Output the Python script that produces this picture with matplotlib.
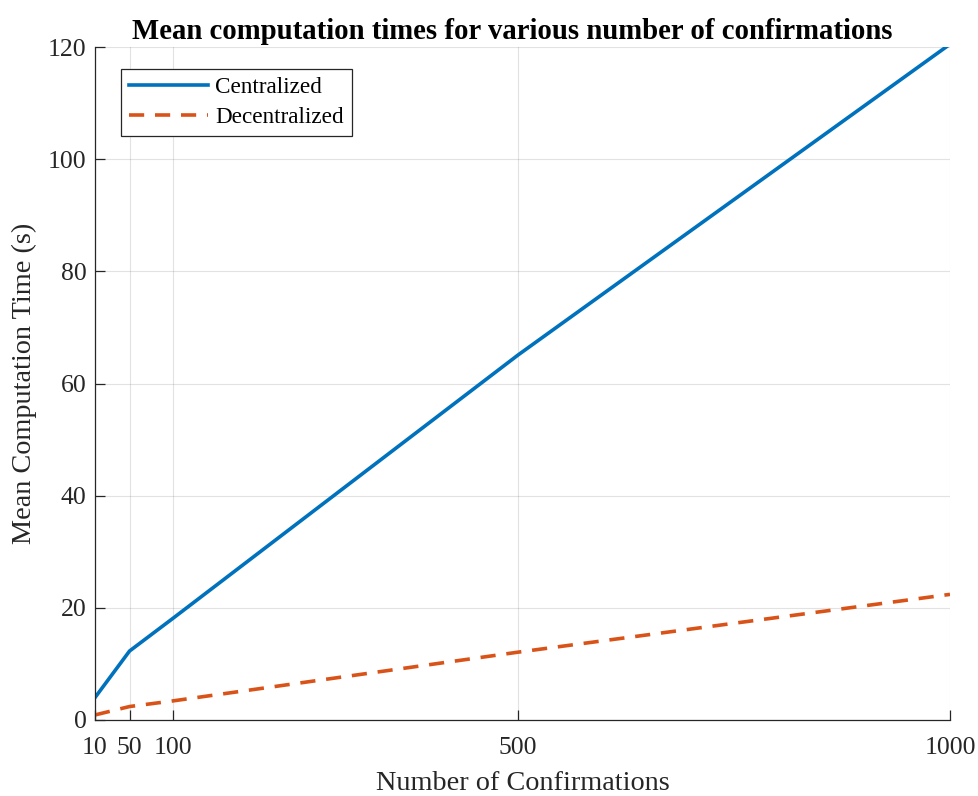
import matplotlib
matplotlib.use("Agg")
import matplotlib.pyplot as plt

confirmations = [10, 50, 100, 500, 1000]
centralized = [4.0, 12.3, 18.1, 65.1, 120.5]
decentralized = [0.9, 2.4, 3.4, 12.1, 22.4]
x_ticks = [10, 50, 100, 500, 1000]
y_ticks = [0, 20, 40, 60, 80, 100, 120]

plt.rcParams['font.family'] = ['Liberation Serif', 'DejaVu Serif']

fig = plt.figure(figsize=(9.79, 7.96), dpi=100)
ax = fig.add_axes([95/979, 76/796, 855/979, 673/796])

ax.plot(confirmations, centralized, color='#0072BD', lw=2.6, label='Centralized')
ax.plot(confirmations, decentralized, color='#D95319', lw=2.6, ls=(0, (4.2, 3.0)), label='Decentralized')

ax.set_xlim(10, 1000)
ax.set_ylim(0, 120)
ax.set_xticks(x_ticks)
ax.set_yticks(y_ticks)
ax.grid(True, color='#262626', alpha=0.13, lw=0.8)
ax.set_axisbelow(True)
for s in ['top', 'right']:
    ax.spines[s].set_visible(False)
for s in ['left', 'bottom']:
    ax.spines[s].set_color('#262626')
    ax.spines[s].set_linewidth(0.9)
ax.tick_params(direction='in', length=7, width=0.9, colors='#262626', labelsize=18.5, labelcolor='#262626')
ax.tick_params(axis='x', pad=12)
ax.tick_params(axis='y', pad=6)

ax.set_xlabel('Number of Confirmations', fontsize=20.3, color='#262626', labelpad=9)
ax.set_ylabel('Mean Computation Time (s)', fontsize=20.3, color='#262626', labelpad=8)
ax.set_title('Mean computation times for various number of confirmations', fontsize=20.7,
             fontweight='bold', pad=6, x=(512 - 95) / 855)

leg = ax.legend(loc='upper left', bbox_to_anchor=(26/855, 1 - 22/673), fontsize=16.7,
                fancybox=False, edgecolor='#262626', framealpha=1, handlelength=3.4,
                borderaxespad=0, borderpad=0.35, labelspacing=0.35, handletextpad=0.3)
leg.get_frame().set_linewidth(0.9)

fig.savefig('out.png', dpi=100)
